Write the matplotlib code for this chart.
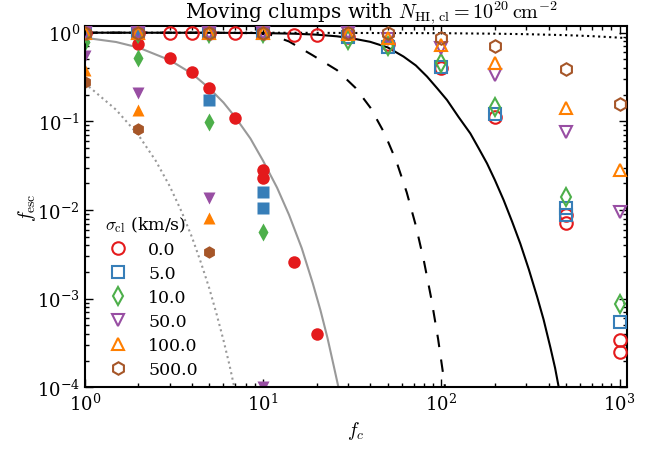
import matplotlib
matplotlib.use('Agg')
from matplotlib import pyplot as plt
from matplotlib.lines import Line2D

plt.rcParams['font.family'] = 'serif'
plt.rcParams['font.serif'] = ['DejaVu Serif']
plt.rcParams['mathtext.fontset'] = 'cm'
plt.rcParams['axes.unicode_minus'] = False
plt.rcParams['font.size'] = 12.5

# colours / markers per sigma_cl
colors = ['#e41a1c', '#377eb8', '#4daf4a', '#984ea3', '#ff7f00', '#a65628']
markers = ['o', 's', 'd', 'v', '^', 'h']
sigma_labels = ['0.0', '5.0', '10.0', '50.0', '100.0', '500.0']

# open markers (moving clumps)
open_x = [
    [1, 2, 3, 4, 5, 7, 10, 15, 20, 30, 50, 100, 200, 500, 500, 1000, 1000],
    [1, 2, 5, 10, 30, 50, 100, 200, 500, 500, 1000],
    [1, 2, 5, 10, 30, 50, 100, 200, 500, 1000],
    [1, 2, 5, 10, 30, 50, 100, 200, 500, 1000],
    [1, 2, 5, 10, 30, 50, 100, 200, 500, 1000],
    [1, 2, 5, 10, 30, 50, 100, 200, 500, 1000],
]
open_y = [
    [1.0, 1.0, 1.0, 1.0, 1.0, 1.0, 0.99, 0.95, 0.94, 0.9, 0.75, 0.40, 0.113, 0.0087, 0.0071, 3.4e-4, 2.5e-4],
    [1.0, 1.0, 1.0, 1.0, 0.9, 0.69, 0.415, 0.12, 0.0104, 0.0087, 5.5e-4],
    [1.0, 1.0, 1.0, 1.0, 0.82, 0.70, 0.45, 0.146, 0.0141, 8.7e-4],
    [1.0, 1.0, 1.0, 1.0, 0.99, 0.85, 0.67, 0.33, 0.076, 0.0096],
    [1.0, 1.0, 1.0, 1.0, 0.96, 0.87, 0.73, 0.45, 0.14, 0.0279],
    [1.0, 1.0, 1.0, 1.0, 1.0, 0.99, 0.87, 0.70, 0.39, 0.155],
]

# filled markers
filled_x = [
    [1, 2, 3, 4, 5, 7, 10, 10, 15, 20],
    [1, 2, 5, 10, 10],
    [1, 2, 5, 10],
    [1, 2, 5, 10],
    [1, 2, 5],
    [1, 2, 5],
]
filled_y = [
    [0.97, 0.74, 0.524, 0.364, 0.24, 0.108, 0.028, 0.0231, 0.0026, 4.0e-4],
    [1.0, 0.99, 0.174, 0.016, 0.0104],
    [0.79, 0.515, 0.099, 0.00565],
    [0.54, 0.207, 0.0135, 1.0e-4],
    [0.38, 0.134, 0.0082],
    [0.28, 0.083, 0.00336],
]

# curves
gray_solid_x = [1, 1.5, 2, 3, 4, 5, 6, 7, 8.5, 10, 12, 14, 16.5, 19, 21, 23, 25, 26.5]
gray_solid_y = [0.877, 0.785, 0.68, 0.49, 0.345, 0.236, 0.163, 0.111, 0.064, 0.036,
                0.0178, 0.0088, 0.0037, 0.0015, 7.4e-4, 3.6e-4, 1.7e-4, 1e-4]

gray_dot_x = [1, 1.5, 2, 2.5, 3, 3.5, 4, 4.5, 5, 5.5, 6, 6.5, 6.9]
gray_dot_y = [0.27, 0.135, 0.070, 0.036, 0.0185, 0.0095, 0.0049, 0.0025, 0.0013, 6.6e-4, 3.4e-4, 1.75e-4, 1.0e-4]

dashed_x = [1, 5, 8, 9.5, 11, 14, 19, 26, 33, 40, 48, 56, 64, 72, 80, 88, 96, 105]
dashed_y = [1.0, 0.999, 0.99, 0.975, 0.95, 0.796, 0.556, 0.378, 0.239, 0.143, 0.0735, 0.0354,
            0.0158, 0.00666, 0.00263, 9.9e-4, 3.5e-4, 1.0e-4]

solid_x = [1, 5, 10, 15, 20, 25.9, 32, 39.9, 50, 61.4, 72, 83.2, 95, 107.7, 125, 145.5, 162,
           180.6, 200, 223.9, 250, 277.7, 310, 344.9, 375, 409.6, 435, 456]
solid_y = [1.0, 0.998, 0.99, 0.974, 0.95, 0.911, 0.859, 0.789, 0.683, 0.538, 0.427, 0.32, 0.235,
           0.174, 0.112, 0.0731, 0.0498, 0.0335, 0.0217, 0.0129, 0.00734, 0.00416, 0.00213,
           0.00105, 5.8e-4, 2.8e-4, 1.65e-4, 1.0e-4]

dotted_x = [1, 10, 100, 200, 300, 500, 700, 1000, 1100]
dotted_y = [1.0, 0.999, 0.987, 0.974, 0.962, 0.938, 0.914, 0.879, 0.867]

fig = plt.figure(figsize=(6.62, 4.52), dpi=100)
ax = fig.add_axes([0.128, 0.141, 0.819, 0.8])

ax.plot(gray_solid_x, gray_solid_y, color='#999999', lw=1.5, zorder=1)
ax.plot(gray_dot_x, gray_dot_y, color='#999999', lw=1.5, ls=':', zorder=1)
ax.plot(dashed_x, dashed_y, color='k', lw=1.5, ls='--', dashes=(6, 6), zorder=1)
ax.plot(solid_x, solid_y, color='k', lw=1.5, zorder=1)
ax.plot(dotted_x, dotted_y, color='k', lw=1.5, ls=':', zorder=1)

for i in range(6):
    ax.plot(filled_x[i], filled_y[i], ls='none', marker=markers[i], ms=9,
            color=colors[i], mec='none', zorder=2)

for i in range(6):
    ax.plot(open_x[i], open_y[i], ls='none', marker=markers[i], ms=9,
            mfc='none', mec=colors[i], mew=1.5, zorder=3)

ax.set_xscale('log')
ax.set_yscale('log')
ax.set_xlim(1, 1100)
ax.set_ylim(1e-4, 1.2)

ax.tick_params(which='both', direction='in', top=True, right=True, labelsize=13)
ax.tick_params(which='major', length=6, width=1)
ax.tick_params(which='minor', length=3, width=1)
for s in ax.spines.values():
    s.set_linewidth(1.5)

ax.set_xlabel(r'$f_c$', fontsize=14)
ax.set_ylabel(r'$f_{\rm esc}$', fontsize=14, labelpad=-1)
ax.set_title(r'Moving clumps with $N_{\rm HI,\,cl}=10^{20}\,{\rm cm}^{-2}$',
             fontsize=14.5, x=0.528, pad=1.5)

handles = [Line2D([], [], ls='none', marker=markers[i], ms=9, mfc='none',
                  mec=colors[i], mew=1.5) for i in range(6)]
leg = ax.legend(handles, sigma_labels, title=r'$\sigma_{\rm cl}$ (km/s)',
                loc='lower left', bbox_to_anchor=(0.008, -0.017), frameon=False,
                numpoints=1, handlelength=1.5, handletextpad=1.0, labelspacing=0.4,
                fontsize=12.5, title_fontsize=12.5)
leg._legend_box.align = 'left'

fig.savefig('out.png', dpi=100)
